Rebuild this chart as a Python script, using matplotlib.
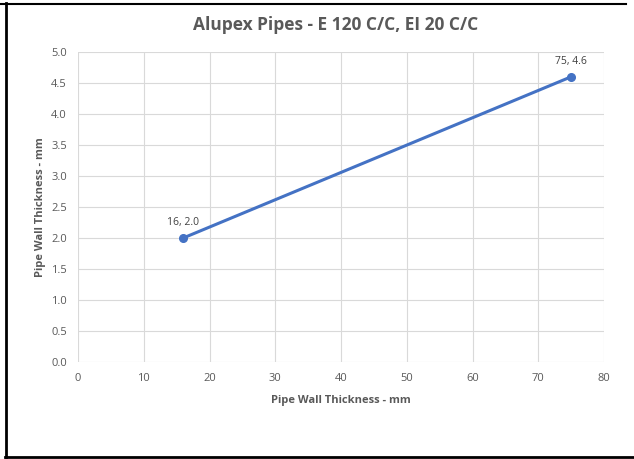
import matplotlib
matplotlib.use("Agg")
import matplotlib.pyplot as plt
from matplotlib.lines import Line2D

x_vals = [16, 75]
y_vals = [2.0, 4.6]
point_labels = ["16, 2.0", "75, 4.6"]
x_ticks = [0, 10, 20, 30, 40, 50, 60, 70, 80]
y_ticks = [0.0, 0.5, 1.0, 1.5, 2.0, 2.5, 3.0, 3.5, 4.0, 4.5, 5.0]
title = "Alupex Pipes - E 120 C/C, EI 20 C/C"
xlabel = "Pipe Wall Thickness - mm"
ylabel = "Pipe Wall Thickness - mm"

plt.rcParams['font.family'] = ['Open Sans', 'DejaVu Sans']
W, H = 634, 459
fig = plt.figure(figsize=(W/100, H/100), dpi=100)
ax = fig.add_axes([78/W, 1-362/H, (604-78)/W, (362-52)/H])

gray = '#595959'
ax.plot(x_vals, y_vals, color='#4472C4', lw=2.2, marker='o', ms=5.5, zorder=3)
for xv, yv, lab in zip(x_vals, y_vals, point_labels):
    ax.annotate(lab, (xv, yv), xytext=(0, 7), textcoords='offset points',
                ha='center', va='bottom', fontsize=7.5, color='#404040')

ax.set_xlim(0, 80)
ax.set_ylim(0, 5)
ax.set_xticks(x_ticks)
ax.set_yticks(y_ticks)
ax.set_xticklabels([str(t) for t in x_ticks])
ax.set_yticklabels([f"{t:.1f}" for t in y_ticks])
ax.grid(True, color='#d9d9d9', lw=0.8)
ax.set_axisbelow(True)
for s in ax.spines.values():
    s.set_visible(False)
ax.tick_params(length=0, labelsize=8, labelcolor=gray, pad=8)

ax.set_xlabel(xlabel, fontsize=8, fontweight='bold', color=gray, labelpad=8)
ax.set_ylabel(ylabel, fontsize=8, fontweight='bold', color=gray, labelpad=4)
fig.text(0.5+0.03, 1-25/H, title, ha='center', va='center', fontsize=12.5,
         fontweight='bold', color=gray)

# outer frame lines
fig.add_artist(Line2D([5.5/W, 5.5/W], [1-3/H, 1-457/H], color='black', lw=2, transform=fig.transFigure))
fig.add_artist(Line2D([0, 626/W], [1-3.5/H, 1-3.5/H], color='black', lw=1.5, transform=fig.transFigure))
fig.add_artist(Line2D([5/W, 1], [1-456.5/H, 1-456.5/H], color='black', lw=2, transform=fig.transFigure))

fig.savefig('out.png', dpi=100)
